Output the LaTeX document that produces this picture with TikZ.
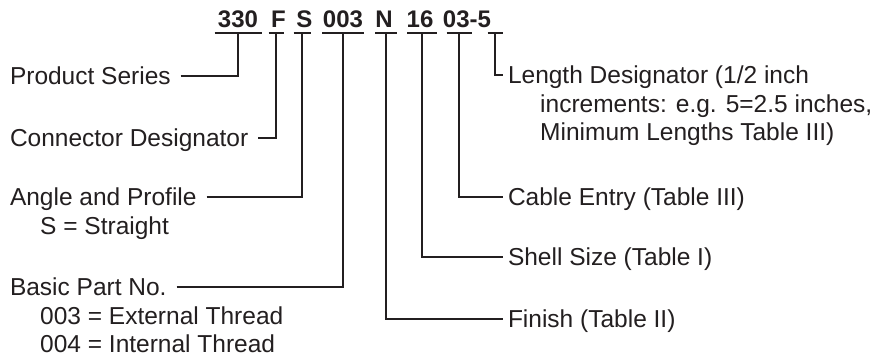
\documentclass[tikz,border=0pt]{standalone}
\usepackage{fontspec}
\setmainfont{Liberation Sans}
\definecolor{ink}{HTML}{231F20}
\begin{document}
\begin{tikzpicture}[x=1pt,y=-1pt,
  lbl/.style={inner sep=0pt, text height=17.5pt, text depth=0pt, font=\fontsize{24.5pt}{28.5pt}\selectfont, text=ink},
  lefttxt/.style={lbl, anchor=west, outer xsep=10pt},
  righttxt/.style={lbl, anchor=west, outer xsep=5pt},
  indtxt/.style={lbl, anchor=west},
  codetxt/.style={inner sep=0pt, anchor=base, font=\fontsize{24pt}{27pt}\selectfont\bfseries, text=ink},
  uline/.style={line width=1.8pt, draw=ink},
  conn/.style={line width=1.8pt, draw=ink, line join=miter},
]
\fill[white] (0,0) rectangle (886,362);
\useasboundingbox (0,0) rectangle (886,362);

% part number code
\node[codetxt] (k330) at (238,27.5) {330};
\node[codetxt] (kF) at (278.5,27.5) {F};
\node[codetxt] (kS) at (304.5,27.5) {S};
\node[codetxt] (k003) at (343,27.5) {003};
\node[codetxt] (kN) at (384,27.5) {N};
\node[codetxt] (k16) at (420,27.5) {16};
\node[codetxt] (k035) at (467,27.5) {03-5};

% underline centres
\coordinate (u330) at (238,33);
\coordinate (uF) at (276,33);
\coordinate (uS) at (302,33);
\coordinate (u003) at (343,33);
\coordinate (uN) at (386,33);
\coordinate (u16) at (422,33);
\coordinate (u03) at (459,33);
\coordinate (u5) at (495,33);

\draw[uline] ([xshift=-23.5pt]u330) -- ([xshift=23.5pt]u330);
\draw[uline] ([xshift=-7.5pt]uF) -- ([xshift=7.5pt]uF);
\draw[uline] ([xshift=-8.5pt]uS) -- ([xshift=8.5pt]uS);
\draw[uline] ([xshift=-21pt]u003) -- ([xshift=21pt]u003);
\draw[uline] ([xshift=-11pt]uN) -- ([xshift=11pt]uN);
\draw[uline] ([xshift=-15pt]u16) -- ([xshift=15pt]u16);
\draw[uline] ([xshift=-12.5pt]u03) -- ([xshift=12.5pt]u03);
\draw[uline] ([xshift=-7.5pt]u5) -- ([xshift=7.5pt]u5);

% left labels
\node[lefttxt] (ps) at (0,76) {Product Series};
\draw[conn] (ps.east) -| (u330);

\node[lefttxt] (cd) at (0,138) {Connector Designator};
\draw[conn] (cd.east) -| (uF);

\node[lefttxt] (ap) at (0,197) {Angle and Profile};
\node[indtxt] (ap1) at (40,225.5) {S = Straight};
\draw[conn] (ap.east) -| (uS);

\node[lefttxt] (bp) at (0,287) {Basic Part No.};
\node[indtxt] (bp1) at (40,315.5) {003 = External Thread};
\node[indtxt] (bp2) at (40,344) {004 = Internal Thread};
\draw[conn] (bp.east) -| (u003);

% right labels
\node[righttxt] (ld) at (503,75) {Length Designator (1/2 inch};
\node[indtxt] (ld1) at (540,103.5) {increments: e.g. 5=2.5 inches,};
\node[indtxt] (ld2) at (540,132) {Minimum Lengths Table III)};
\draw[conn] (u5) |- (ld.west);

\node[righttxt] (ce) at (503,197) {Cable Entry (Table III)};
\draw[conn] (u03) |- (ce.west);

\node[righttxt] (ss) at (503,257) {Shell Size (Table I)};
\draw[conn] (u16) |- (ss.west);

\node[righttxt] (fi) at (503,319) {Finish (Table II)};
\draw[conn] (uN) |- (fi.west);
\end{tikzpicture}
\end{document}
